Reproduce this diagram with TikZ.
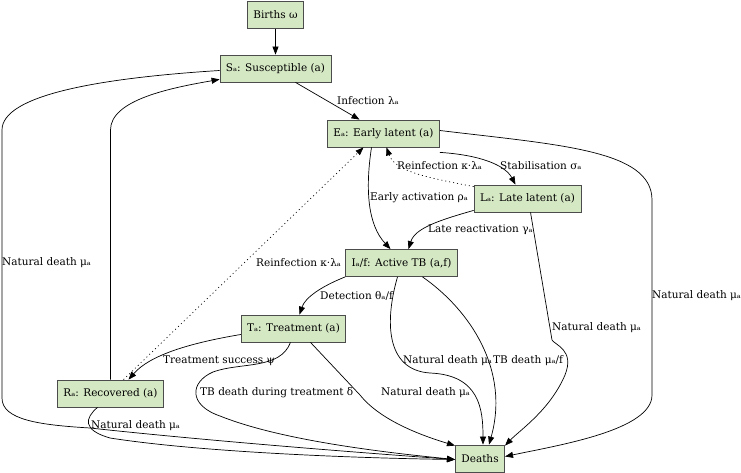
\documentclass[tikz,border=0pt]{standalone}
\usepackage{fontspec}
\setmainfont{DejaVu Serif}
\usepackage{tikz}
\usetikzlibrary{arrows.meta}

\begin{document}
\begin{tikzpicture}[x=1pt,y=-1pt,font=\fontsize{10.5}{12.6}\selectfont,
    >={Triangle[length=8pt,width=6pt]},
    comp/.style={draw=black!70,fill={rgb,255:red,213;green,232;blue,196},
        line width=0.8pt,minimum height=27pt,inner xsep=6pt,inner ysep=2pt},
    lbl/.style={anchor=west,inner sep=0pt},
    flow/.style={->,line width=0.7pt},
    reinf/.style={flow,dash pattern=on 1pt off 3pt}]
    \useasboundingbox (0,0) rectangle (741,473);

    % compartments
    \node[comp] (births) at (275.5,15) {Births ω};
    \node[comp] (s) at (275.5,68.5) {Sₐ: Susceptible (a)};
    \node[comp] (e) at (383.5,133.5) {Eₐ: Early latent (a)};
    \node[comp] (l) at (527.5,198.5) {Lₐ: Late latent (a)};
    \node[comp] (i) at (401.5,263) {Iₐ/f: Active TB (a,f)};
    \node[comp] (t) at (293.5,328.5) {Tₐ: Treatment (a)};
    \node[comp] (r) at (110.5,393.5) {Rₐ: Recovered (a)};
    \node[comp] (deaths) at (480,458.5) {Deaths};

    % transitions
    \draw[flow] (births) -- (s);
    \draw[flow] ([xshift=20pt]s.south) -- ([xshift=-24pt]e.north);
    \node[lbl] (infection) at (337,101) {Infection λₐ};

    \draw[flow] ([yshift=-5pt]e.south east) .. controls (480,155) and (505,165)
        .. ([xshift=-12pt]l.north);
    \node[lbl] (stab) at (500,166) {Stabilisation σₐ};

    \draw[reinf] ([yshift=-2pt]l.north west) .. controls (430,178) and (395,172)
        .. ([xshift=3pt]e.south);
    \node[lbl] (reinf-l) at (397,166) {Reinfection κ·λₐ};

    \draw[flow] ([xshift=-12pt]e.south) .. controls (365,190) and (368,225)
        .. ([xshift=-11pt]i.north);
    \node[lbl] (early) at (370,198) {Early activation ρₐ};

    \draw[flow] ([yshift=2pt]l.south west) .. controls (440,220) and (415,228)
        .. ([xshift=7pt]i.north);
    \node[lbl] (late) at (428,230) {Late reactivation γₐ};

    \draw[flow] (i.south west) .. controls (320,287) and (305,298)
        .. ([xshift=6pt]t.north);
    \node[lbl] (detect) at (320,296) {Detection θₐ/f};

    \draw[flow] ([yshift=-6pt]t.west) .. controls (190,343) and (150,355)
        .. ([xshift=18pt]r.north);
    \node[lbl] (success) at (163,361) {Treatment success ψ};

    \draw[flow] (r.north) -- (110.5,130) .. controls (110.5,100) and (170,88)
        .. ([yshift=3pt]s.south west);

    \draw[reinf] ([xshift=13pt]r.north) -- ([xshift=-20pt]e.south);
    \node[lbl] (reinf-r) at (256,263) {Reinfection κ·λₐ};

    % natural and TB deaths
    \draw[flow] ([yshift=-2pt]s.west) .. controls (100,78) and (2,95) .. (2,130)
        -- (2,398) .. controls (2,420) and (40,425) .. (90,428)
        .. controls (200,440) and (350,452) .. ([yshift=-1pt]deaths.west);
    \node[lbl] (nd-s) at (2,263) {Natural death μₐ};

    \draw[flow] ([xshift=-13pt]r.south) .. controls (85,418) and (82,430) .. (110,438)
        .. controls (200,452) and (350,458) .. ([yshift=-1pt]deaths.west);
    \node[lbl] (nd-r) at (91,426) {Natural death μₐ};

    \draw[flow] ([xshift=-3pt]t.south) .. controls (280,370) and (240,362) .. (213,372)
        .. controls (190,382) and (188,405) .. (220,416)
        .. controls (280,440) and (380,452) .. ([yshift=-1pt]deaths.west);
    \node[lbl] (tbdelta) at (200,393) {TB death during treatment δ};

    \draw[flow] ([xshift=17pt]t.south) -- (360,395) .. controls (380,420) and (420,435)
        .. ([yshift=-1pt]deaths.north west);
    \node[lbl] (nd-t) at (381,393) {Natural death μₐ};

    \draw[flow] ([xshift=-4pt]i.south) .. controls (385,320) and (385,370) .. (430,373)
        .. controls (480,375) and (483,410) .. ([xshift=3pt]deaths.north);
    \node[lbl] (nd-i) at (403,361) {Natural death μₐ};

    \draw[flow] ([xshift=21pt]i.south) .. controls (470,310) and (510,370)
        .. ([xshift=9pt]deaths.north);
    \node[lbl] (tb-i) at (493,361) {TB death μₐ/f};

    \draw[flow] ([xshift=3pt]l.south) -- (552,340) .. controls (555,345) and (575,350)
        .. (565,375) .. controls (550,410) and (520,430) .. ([yshift=-1pt]deaths.north east);
    \node[lbl] (nd-l) at (552,328) {Natural death μₐ};

    \draw[flow] ([yshift=3pt]e.east) .. controls (560,145) and (652,150) .. (652,200)
        -- (652,395) .. controls (652,430) and (560,445) .. ([yshift=2pt]deaths.east);
    \node[lbl] (nd-e) at (652,296) {Natural death μₐ};
\end{tikzpicture}
\end{document}
